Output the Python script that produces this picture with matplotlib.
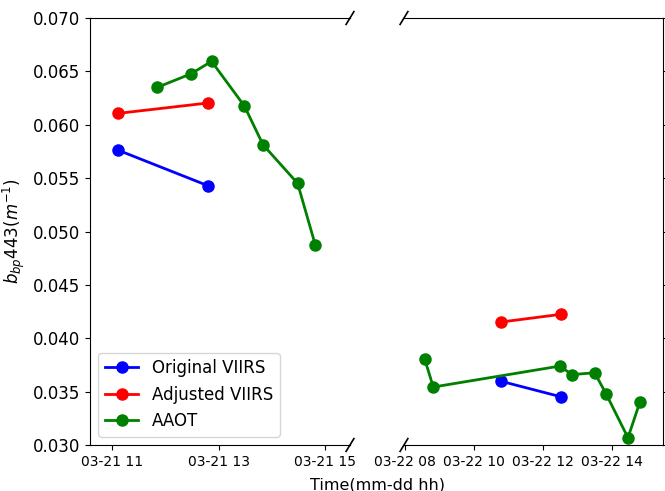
import matplotlib
matplotlib.use("Agg")
import matplotlib.pyplot as plt
import matplotlib.dates as mdates
import pandas as pd

# day 1 (03-21)
orig_t1 = ["2021-03-21 11:07", "2021-03-21 12:48"]
orig_v1 = [0.05761, 0.05429]
adj_t1 = ["2021-03-21 11:07", "2021-03-21 12:48"]
adj_v1 = [0.06107, 0.06204]
aaot_t1 = ["2021-03-21 11:51", "2021-03-21 12:29", "2021-03-21 12:52", "2021-03-21 13:29",
           "2021-03-21 13:50", "2021-03-21 14:29", "2021-03-21 14:49"]
aaot_v1 = [0.06351, 0.06478, 0.06594, 0.06176, 0.05813, 0.05451, 0.04871]

# day 2 (03-22)
orig_t2 = ["2021-03-22 10:47", "2021-03-22 12:31"]
orig_v2 = [0.03597, 0.03452]
adj_t2 = ["2021-03-22 10:47", "2021-03-22 12:31"]
adj_v2 = [0.04152, 0.04224]
aaot_t2 = ["2021-03-22 08:34", "2021-03-22 08:49", "2021-03-22 12:30", "2021-03-22 12:50",
           "2021-03-22 13:30", "2021-03-22 13:50", "2021-03-22 14:28", "2021-03-22 14:49"]
aaot_v2 = [0.03806, 0.03543, 0.03740, 0.03659, 0.03677, 0.03478, 0.03068, 0.03406]

xlim1 = ["2021-03-21 10:35", "2021-03-21 15:28"]
xlim2 = ["2021-03-22 07:58", "2021-03-22 15:29"]
ticks1 = ["2021-03-21 11:00", "2021-03-21 13:00", "2021-03-21 15:00"]
ticks2 = ["2021-03-22 08:00", "2021-03-22 10:00", "2021-03-22 12:00", "2021-03-22 14:00"]

td = pd.to_datetime

fig = plt.figure(figsize=(6.65, 4.91), dpi=100)
ax1 = fig.add_axes([0.1353, 0.0937, 0.3910, 0.8696])
ax2 = fig.add_axes([0.6075, 0.0937, 0.3895, 0.8696], sharey=ax1)

kw = dict(marker='o', markersize=8, linewidth=2)
for ax, data in [(ax1, (orig_t1, orig_v1, adj_t1, adj_v1, aaot_t1, aaot_v1)),
                 (ax2, (orig_t2, orig_v2, adj_t2, adj_v2, aaot_t2, aaot_v2))]:
    ot, ov, at, av, gt, gv = data
    ax.plot(td(ot), ov, color='blue', label='Original VIIRS', **kw)
    ax.plot(td(at), av, color='red', label='Adjusted VIIRS', **kw)
    ax.plot(td(gt), gv, color='green', label='AAOT', **kw)
    ax.xaxis.set_major_formatter(mdates.DateFormatter('%m-%d %H'))
    ax.tick_params(axis='x', labelsize=10)
    ax.tick_params(axis='y', labelsize=12)

ax1.set_xlim(td(xlim1[0]), td(xlim1[1]))
ax2.set_xlim(td(xlim2[0]), td(xlim2[1]))
ax1.set_xticks(td(ticks1))
ax2.set_xticks(td(ticks2))
ax1.set_ylim(0.030, 0.070)
ax1.yaxis.set_major_formatter(matplotlib.ticker.FormatStrFormatter('%.3f'))

ax1.spines['right'].set_visible(False)
ax2.spines['left'].set_visible(False)
ax2.yaxis.tick_right()
ax2.tick_params(labelright=False)

d = .015
k = dict(transform=ax1.transAxes, color='k', clip_on=False, linewidth=1.2)
ax1.plot((1 - d, 1 + d), (-d, +d), **k)
ax1.plot((1 - d, 1 + d), (1 - d, 1 + d), **k)
k.update(transform=ax2.transAxes)
ax2.plot((-d, +d), (-d, +d), **k)
ax2.plot((-d, +d), (1 - d, 1 + d), **k)

ax1.legend(loc='lower left', fontsize=12)
ax1.set_ylabel('$b_{bp}443(m^{-1})$', fontsize=12)
fig.text(0.567, 0.004, 'Time(mm-dd hh)', ha='center', fontsize=11.5)

fig.savefig('out.png', dpi=100)
